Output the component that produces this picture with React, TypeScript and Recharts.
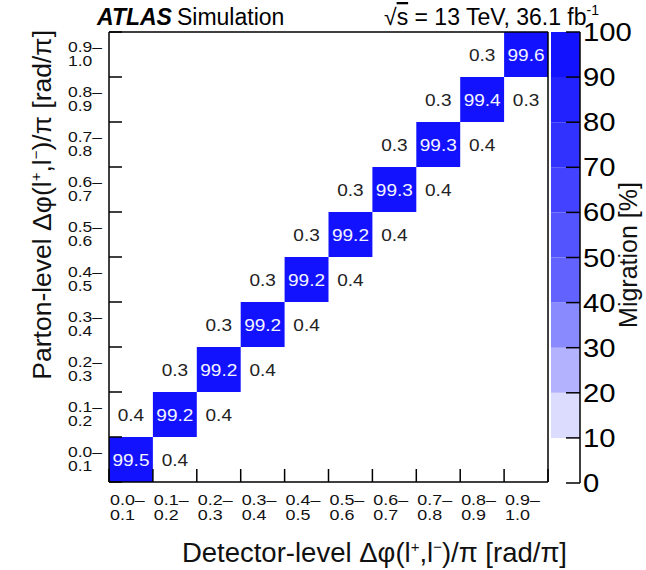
import { ComposedChart, Scatter, XAxis, YAxis, ReferenceArea } from "recharts"

// bin edges of delta phi / pi (same on both axes)
const binEdges = [0, 0.1, 0.2, 0.3, 0.4, 0.5, 0.6, 0.7, 0.8, 0.9, 1.0]

// migration [%] for parton-level bin i, detector-level bins i-1, i, i+1
const diagonal = [99.5, 99.2, 99.2, 99.2, 99.2, 99.2, 99.3, 99.3, 99.4, 99.6]
const belowDiag = [null, 0.4, 0.3, 0.3, 0.3, 0.3, 0.3, 0.3, 0.3, 0.3]
const aboveDiag = [0.4, 0.4, 0.4, 0.4, 0.4, 0.4, 0.4, 0.4, 0.3, null]

// colour palette levels
const zLevels = [0, 10, 20, 30, 40, 50, 60, 70, 80, 90, 100]
const zColors = ["#ffffff", "#dcdcff", "#b2b2ff", "#8a8aff", "#6262ff", "#5454ff", "#4242ff", "#3232ff", "#2222ff", "#1212ff"]

const FONT = "'Liberation Sans', Arial, Helvetica, sans-serif"

const binCenters = binEdges.slice(0, -1).map((e, i) => (e + binEdges[i + 1]) / 2)

type Cell = { x: number; y: number; col: number; row: number; value: number }

const cells: Cell[] = []
diagonal.forEach((v, i) => {
  const b = belowDiag[i]
  const a = aboveDiag[i]
  if (b != null) cells.push({ x: binCenters[i - 1], y: binCenters[i], col: i - 1, row: i, value: b })
  cells.push({ x: binCenters[i], y: binCenters[i], col: i, row: i, value: v })
  if (a != null) cells.push({ x: binCenters[i + 1], y: binCenters[i], col: i + 1, row: i, value: a })
})

// one entry per palette band, for the colour bar
const bands = zColors.map((c, k) => ({ x: 0.5, z: (zLevels[k] + zLevels[k + 1]) / 2, lo: zLevels[k], hi: zLevels[k + 1], color: c }))

const colorFor = (v: number) => {
  if (v < zLevels[1]) return null
  let k = 0
  while (k < zColors.length - 1 && v >= zLevels[k + 1]) k++
  return zColors[k]
}

const fmt = (v: number) => v.toFixed(1)

const binIndex = (v: number) => binCenters.findIndex((c) => Math.abs(c - v) < 1e-6)

const XLabelTick = (props: any) => {
  const { x, y, payload } = props
  const i = binIndex(payload.value)
  return (
    <g transform={`translate(${x - 21},${y}) scale(1.28,1)`}>
      <text x={0} y={14} fontSize={14} fontFamily={FONT} fill="#111">{fmt(binEdges[i])}–</text>
      <text x={0} y={29.5} fontSize={14} fontFamily={FONT} fill="#111">{fmt(binEdges[i + 1])}</text>
    </g>
  )
}

const YLabelTick = (props: any) => {
  const { x, y, payload } = props
  const i = binIndex(payload.value)
  return (
    <g transform={`translate(${x - 32},${y}) scale(1.25,1)`}>
      <text x={0} y={-2.5} fontSize={14} fontFamily={FONT} fill="#111">{fmt(binEdges[i])}–</text>
      <text x={0} y={11.5} fontSize={14} fontFamily={FONT} fill="#111">{fmt(binEdges[i + 1])}</text>
    </g>
  )
}

const NoLabel = () => <g />

const CellText = (props: any) => {
  const { cx, cy, payload } = props
  const filled = colorFor(payload.value) != null && payload.value > 50
  return (
    <g transform={`translate(${cx},${cy + 6}) scale(1.12,1)`}>
      <text x={0} y={0} textAnchor="middle" fontSize={17} fontFamily={FONT} fill={filled ? "#f4f4ff" : "#222"}>
        {fmt(payload.value)}
      </text>
    </g>
  )
}

const ZTick = (props: any) => {
  const { x, y, payload } = props
  return (
    <g transform={`translate(${x},${y + 9}) scale(1.17,1)`}>
      <text x={0} y={0} fontSize={25} fontFamily={FONT} fill="#000">{payload.value}</text>
    </g>
  )
}

const NoDot = () => <g />

const axisLine = { stroke: "#000", strokeWidth: 1.5 }
const tickLine = { stroke: "#000", strokeWidth: 1.5 }
const hidden = { stroke: "none" }

export default function App() {
  return (
    <div style={{ position: "relative", width: 646, height: 570, background: "#fff" }}>
      <style>{`body{margin:0}`}</style>
      <div style={{ position: "absolute", left: 0, top: 0 }}>
        <ComposedChart width={646} height={570} margin={{ top: 31, right: 97, bottom: 0, left: 0 }}>
          <XAxis xAxisId="xb" dataKey="x" type="number" domain={[0, 1]} ticks={binEdges} height={1} tickSize={-13} tick={NoLabel} axisLine={axisLine} tickLine={tickLine} />
          <XAxis xAxisId="xl" dataKey="x" type="number" domain={[0, 1]} ticks={binCenters} height={87} tick={<XLabelTick />} tickLine={hidden} axisLine={hidden} interval={0} />
          <XAxis xAxisId="xt" dataKey="x" orientation="top" type="number" domain={[0, 1]} ticks={binEdges} height={1} tickSize={-13} tick={NoLabel} axisLine={axisLine} tickLine={tickLine} />
          <YAxis yAxisId="yb" dataKey="y" type="number" domain={[0, 1]} ticks={binEdges} width={1} tickSize={-13} tick={NoLabel} axisLine={axisLine} tickLine={tickLine} />
          <YAxis yAxisId="yl" dataKey="y" type="number" domain={[0, 1]} ticks={binCenters} width={108} tick={<YLabelTick />} tickLine={hidden} axisLine={hidden} interval={0} />
          <YAxis yAxisId="yr" dataKey="y" orientation="right" type="number" domain={[0, 1]} ticks={binEdges} width={1} tickSize={-13} tick={NoLabel} axisLine={axisLine} tickLine={tickLine} />
          {cells.map((c) => {
            const fill = colorFor(c.value)
            if (!fill) return null
            return (
              <ReferenceArea
                key={`${c.row}-${c.col}`}
                xAxisId="xb"
                yAxisId="yb"
                x1={binEdges[c.col]}
                x2={binEdges[c.col + 1]}
                y1={binEdges[c.row]}
                y2={binEdges[c.row + 1]}
                fill={fill}
                fillOpacity={1}
                stroke="none"
              />
            )
          })}
          <Scatter xAxisId="xb" yAxisId="yb" data={cells} shape={CellText} isAnimationActive={false} />
          <Scatter xAxisId="xl" yAxisId="yl" data={cells} shape={NoDot} isAnimationActive={false} />
        </ComposedChart>
      </div>
      <div style={{ position: "absolute", left: 0, top: 0 }}>
        <ComposedChart width={646} height={570} margin={{ top: 32, right: 65, bottom: 87, left: 551 }}>
          <XAxis xAxisId="cx" dataKey="x" type="number" domain={[0, 1]} hide />
          <YAxis
            yAxisId="cz"
            dataKey="z"
            orientation="right"
            type="number"
            domain={[0, 100]}
            ticks={zLevels}
            width={1}
            tickSize={-14}
            tickMargin={17}
            interval={0}
            axisLine={axisLine}
            tickLine={tickLine}
            tick={<ZTick />}
          />
          {bands.map((b, k) =>
            k === 0 ? null : (
              <ReferenceArea
                key={b.color}
                xAxisId="cx"
                yAxisId="cz"
                x1={0}
                x2={1}
                y1={b.lo}
                y2={b.hi}
                fill={b.color}
                fillOpacity={1}
                stroke="none"
              />
            )
          )}
          <Scatter xAxisId="cx" yAxisId="cz" data={bands} shape={NoDot} isAnimationActive={false} />
        </ComposedChart>
      </div>
      <svg width={646} height={570} style={{ position: "absolute", left: 0, top: 0, pointerEvents: "none" }} fontFamily={FONT}>
        <text x={97} y={25} fontSize={23} fill="#000">
          <tspan fontWeight="bold" fontStyle="italic">ATLAS</tspan>
          <tspan dx={5}>Simulation</tspan>
        </text>
        <text x={599} y={25} fontSize={23} fill="#000" textAnchor="end">
          √<tspan textDecoration="overline">s</tspan> = 13 TeV, 36.1 fb<tspan dy={-10} fontSize={14}>-1</tspan>
        </text>
        <text transform="translate(51,30) rotate(-90)" fontSize={26.5} fill="#111" textAnchor="end">
          Parton-level Δφ(l<tspan dy={-10} fontSize={15}>+</tspan><tspan dy={10}>,l</tspan><tspan dy={-10} fontSize={15}>−</tspan><tspan dy={10}>)/π [rad/π]</tspan>
        </text>
        <text x={567} y={562} fontSize={27.5} fill="#111" textAnchor="end">
          Detector-level Δφ(l<tspan dy={-10} fontSize={15}>+</tspan><tspan dy={10}>,l</tspan><tspan dy={-10} fontSize={15}>−</tspan><tspan dy={10}>)/π [rad/π]</tspan>
        </text>
        <text transform="translate(637,255) rotate(-90)" fontSize={25} fill="#111" textAnchor="middle">
          Migration [%]
        </text>
      </svg>
    </div>
  )
}
